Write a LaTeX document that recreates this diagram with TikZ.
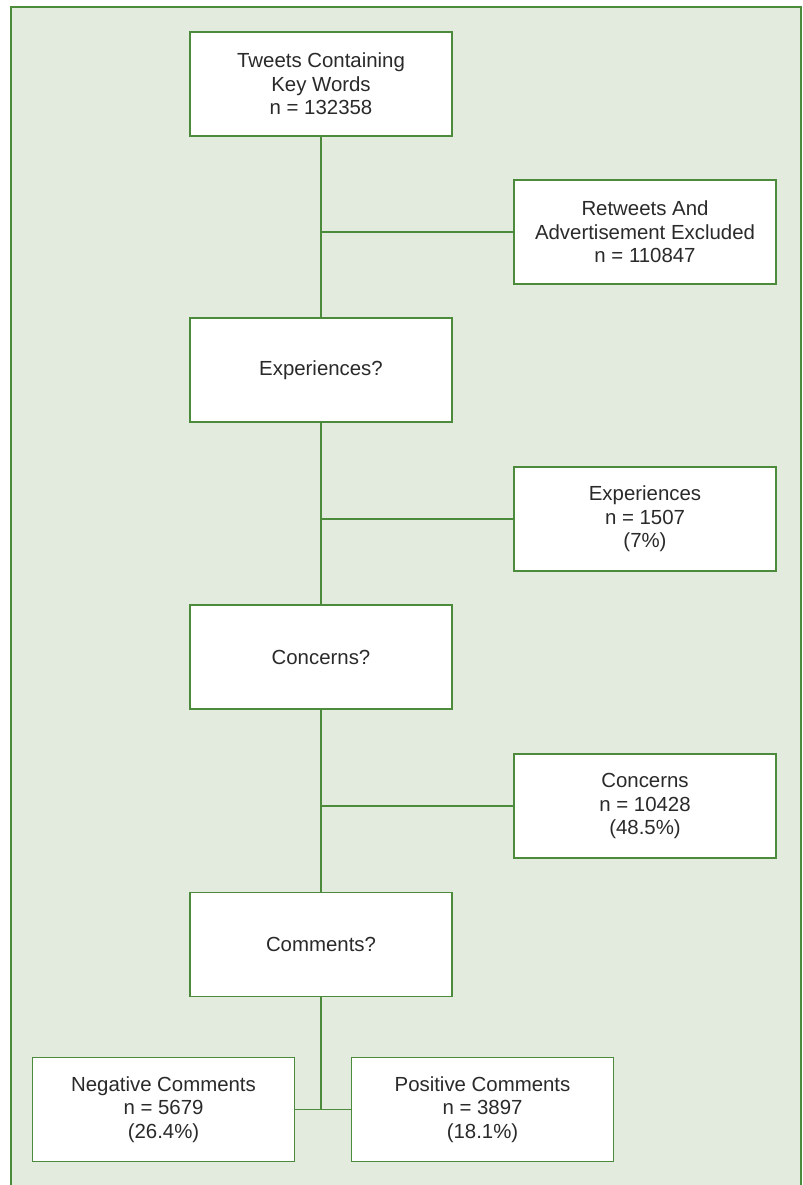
\documentclass[tikz,border=0pt]{standalone}
\usepackage{fontspec}
\setmainfont{Liberation Sans}
\definecolor{bgc}{HTML}{E3EBDF}
\definecolor{lnc}{HTML}{4B8B3B}
\definecolor{txc}{HTML}{2A2A2A}
\tikzset{
  box/.style={draw=lnc, line width=1.1pt, fill=white, minimum width=196.5pt, minimum height=78pt,
    align=center, text=txc, font=\fontsize{15.3pt}{17.6pt}\selectfont, inner sep=0pt},
  conn/.style={draw=lnc, line width=1.1pt}
}
\begin{document}
\begin{tikzpicture}[x=0.75pt,y=-0.75pt]
\useasboundingbox (0,0) rectangle (803,1185);
\clip (0,0) rectangle (803,1185);
\fill[bgc] (11,7) rectangle (801,1200);
\draw[lnc, line width=1.6pt] (11,1200) -- (11,7) -- (801,7) -- (801,1200);
\node[box] (top) at (321,84) {Tweets Containing\\Key Words\\n = 132358};
\node[box] (ret) at (645,232) {Retweets And\\Advertisement Excluded\\n = 110847};
\node[box] (exq) at (321,370) {Experiences?};
\node[box] (exp) at (645,519) {Experiences\\n = 1507\\(7\%)};
\node[box] (conq) at (321,657) {Concerns?};
\node[box] (con) at (645,806) {Concerns\\n = 10428\\(48.5\%)};
\node[box] (comq) at (321,944.5) {Comments?};
\node[box] (neg) at (163.5,1109.5) {Negative Comments\\n = 5679\\(26.4\%)};
\node[box] (pos) at (482.5,1109.5) {Positive Comments\\n = 3897\\(18.1\%)};
\draw[conn] (top.south) -- (exq.north);
\draw[conn] (ret.west) -- (top.south |- ret.west);
\draw[conn] (exq.south) -- (conq.north);
\draw[conn] (exp.west) -- (exq.south |- exp.west);
\draw[conn] (conq.south) -- (comq.north);
\draw[conn] (con.west) -- (conq.south |- con.west);
\draw[conn] (comq.south) -- (comq.south |- neg.east);
\draw[conn] (neg.east) -- (pos.west);
\end{tikzpicture}
\end{document}
